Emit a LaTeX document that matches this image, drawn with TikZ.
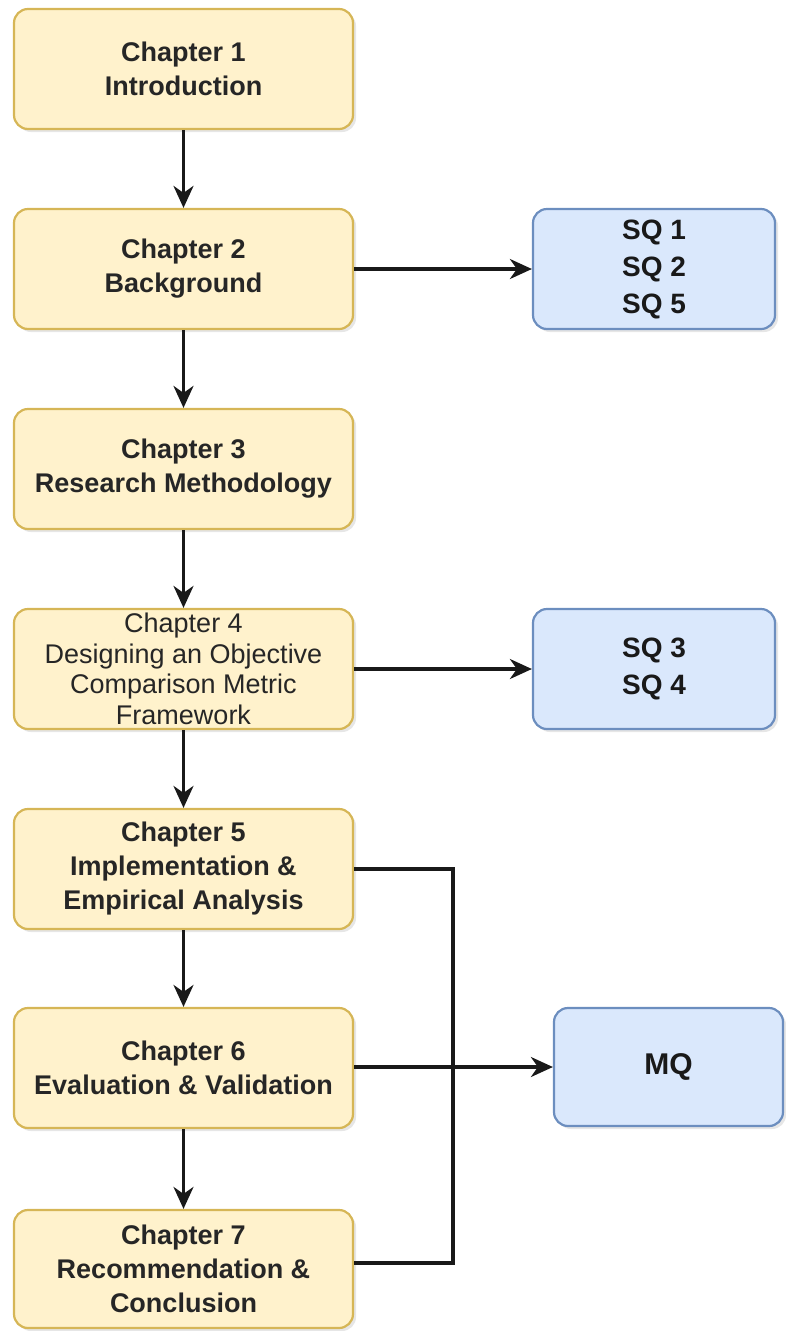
\documentclass[tikz,border=0pt]{standalone}
\usepackage{fontspec}
\setmainfont{Liberation Sans}
\usetikzlibrary{arrows.meta,shadows,calc}
\definecolor{yfill}{HTML}{FFF2CC}
\definecolor{ydraw}{HTML}{D6B656}
\definecolor{bfill}{HTML}{DAE8FC}
\definecolor{bdraw}{HTML}{6C8EBF}
\tikzset{
  chbox/.style={rectangle, rounded corners=14pt, draw=ydraw, fill=yfill, line width=2.2pt,
    minimum width=339pt, minimum height=120pt, align=center, inner sep=2pt,
    drop shadow={opacity=0.2, shadow xshift=3pt, shadow yshift=-3pt},
    font=\fontsize{27}{34}\selectfont\bfseries, text=black!85},
  sqbox/.style={rectangle, rounded corners=14pt, draw=bdraw, fill=bfill, line width=2.2pt,
    minimum width=242pt, minimum height=120pt, align=center, inner sep=2pt,
    drop shadow={opacity=0.2, shadow xshift=3pt, shadow yshift=-3pt},
    font=\fontsize{28}{37}\selectfont\bfseries, text=black!90},
  conn/.style={line width=3.2pt, draw=black!90},
  arr/.style={conn, -{Stealth[length=22pt,width=20pt,inset=7pt]}},
}
\begin{document}
\begin{tikzpicture}[x=1pt,y=-1pt]
\useasboundingbox (0,0) rectangle (785,1331);
\node[chbox] (c1) at (183.5,69) {Chapter 1\\Introduction};
\node[chbox] (c2) at (183.5,269) {Chapter 2\\Background};
\node[chbox] (c3) at (183.5,469) {Chapter 3\\Research Methodology};
\node[chbox, font=\fontsize{27}{30.5}\selectfont] (c4) at (183.5,669) {Chapter 4\\Designing an Objective\\Comparison Metric\\Framework};
\node[chbox] (c5) at (183.5,869) {Chapter 5\\Implementation \&\\Empirical Analysis};
\node[chbox] (c6) at (183.5,1068) {Chapter 6\\Evaluation \& Validation};
\node[chbox, minimum height=118pt] (c7) at (183.5,1269) {Chapter 7\\Recommendation \&\\Conclusion};

\node[sqbox] (sq1) at (654,269) {SQ 1\\SQ 2\\SQ 5};
\node[sqbox] (sq3) at (654,669) {SQ 3\\SQ 4};
\node[sqbox, minimum width=229pt, minimum height=118pt, font=\fontsize{30}{36}\selectfont\bfseries] (mq) at (668.5,1067) {MQ};

\draw[arr] (c1) -- (c2);
\draw[arr] (c2) -- (c3);
\draw[arr] (c3) -- (c4);
\draw[arr] (c4) -- (c5);
\draw[arr] (c5) -- (c6);
\draw[arr] (c6) -- (c7);
\draw[arr] (c2) -- (sq1);
\draw[arr] (c4) -- (sq3);

\coordinate (j) at (453,1067);
\draw[conn] (c5.east) -| (j);
\draw[conn] ($(c7.east)+(0,-6)$) -| (j);
\draw[arr] (c6.east |- mq.west) -- (mq.west);
\end{tikzpicture}
\end{document}
